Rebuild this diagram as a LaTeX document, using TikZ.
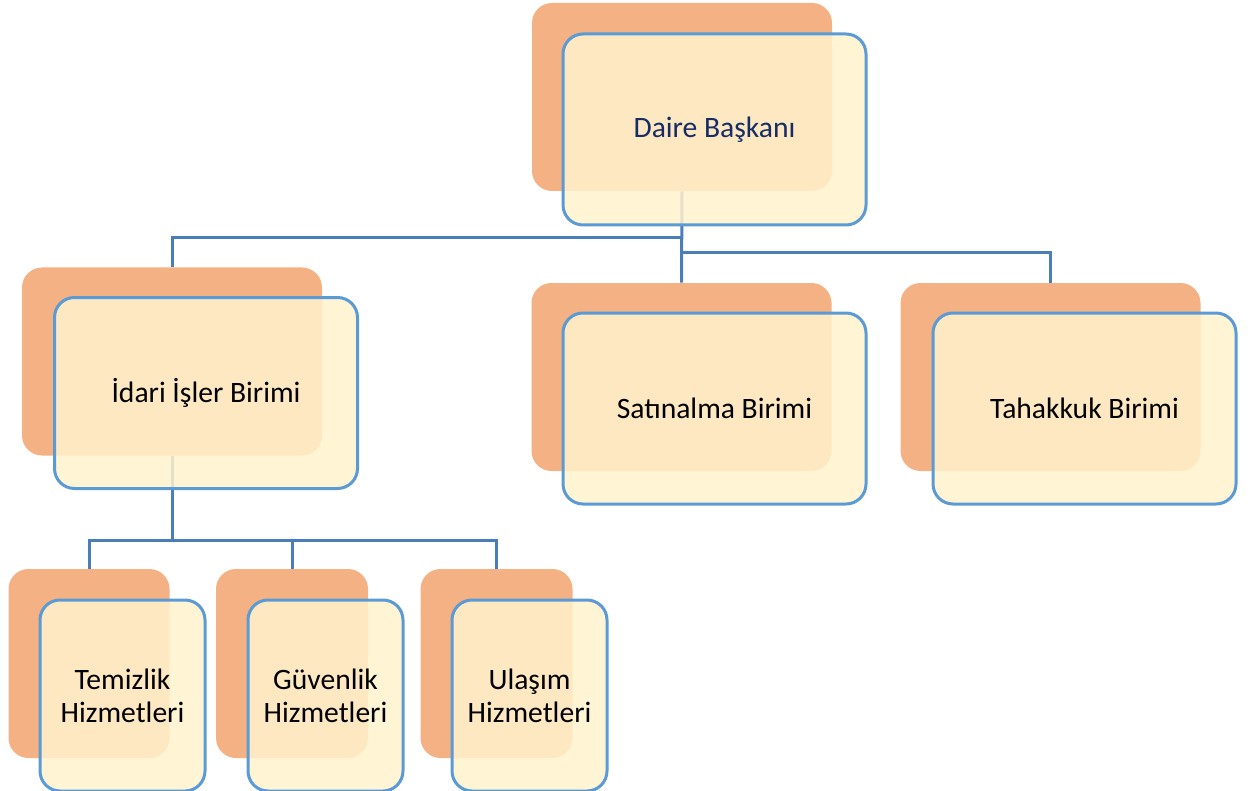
\documentclass[tikz,border=0pt]{standalone}
\usepackage{fontspec}
\setmainfont{Carlito}
\usepackage{tikz}
\usetikzlibrary{positioning}

\definecolor{backorange}{HTML}{F4B183}
\definecolor{frontcream}{HTML}{FFF2CC}
\definecolor{frameblue}{HTML}{5B9BD5}
\definecolor{linkblue}{HTML}{4A7EBB}
\definecolor{headnavy}{HTML}{152C66}

\begin{document}
\begin{tikzpicture}[x=0.5pt, y=-0.5pt,
    back/.style = {rectangle, rounded corners=10pt, fill=backorange, draw=none,
                   minimum width=150pt, minimum height=94pt, inner sep=0pt},
    front/.style = {rectangle, rounded corners=10pt, fill=frontcream, fill opacity=0.85,
                    text opacity=1, draw=frameblue, line width=1.5pt,
                    minimum width=151.5pt, minimum height=95.5pt, inner sep=0pt,
                    font=\fontsize{14.8}{16.5}\selectfont, align=center},
    small back/.style = {back, minimum width=76pt, minimum height=94.5pt},
    small front/.style = {front, minimum width=77.5pt, minimum height=95.5pt},
    link/.style = {draw=linkblue, line width=1.5pt}]
    \useasboundingbox (0,0) rectangle (1252,791);

    % back plates
    \node [back] (daireB) at (682,97) {};
    \node [back] (idariB) at (172,361.5) {};
    \node [back] (satinB) at (681.5,377) {};
    \node [back] (tahakB) at (1050.5,377) {};
    \node [small back, minimum width=80.5pt] (temizB) at (89,663.5) {};
    \node [small back] (guvenB) at (292,663.5) {};
    \node [small back] (ulasimB) at (496.5,663.5) {};

    % connectors
    \coordinate (hubA) at (681.5,238);
    \coordinate (hubB) at (681.5,253);
    \coordinate (hubC) at (172,540);
    \draw [link] (daireB.south) -- (satinB.north);
    \draw [link] (hubA) -| (idariB.north);
    \draw [link] (hubB) -| (tahakB.north);
    \draw [link] (idariB.south) -- (hubC);
    \foreach \n in {temiz,guven,ulasim}
        \draw [link] (hubC) -| (\n B.north);

    % front cards
    \node [front, text=headnavy] (daire) at (714.5,129.5) {Daire Başkanı};
    \node [front] (idari) at (206,393) {İdari İşler Birimi};
    \node [front] (satin) at (714.5,408.5) {Satınalma Birimi};
    \node [front] (tahak) at (1084.5,408.5) {Tahakkuk Birimi};
    \node [small front, minimum width=82.5pt] (temiz) at (122.5,695.5) {Temizlik\\Hizmetleri};
    \node [small front] (guven) at (325.5,695.5) {Güvenlik\\Hizmetleri};
    \node [small front] (ulasim) at (529.5,695.5) {Ulaşım\\Hizmetleri};
\end{tikzpicture}
\end{document}
